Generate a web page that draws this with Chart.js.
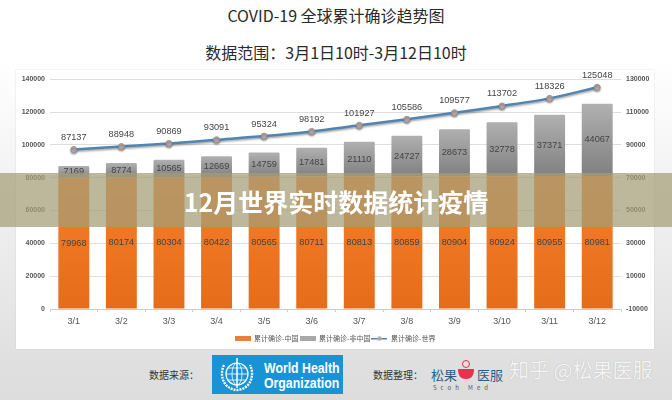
<!DOCTYPE html>
<html>
<head>
<meta charset="utf-8">
<script src="https://cdn.jsdelivr.net/npm/chart.js@4"></script>
<style>
  html, body { margin: 0; padding: 0; }
  body { width: 672px; height: 400px; position: relative; overflow: hidden;
    background: linear-gradient(#fff 0, #fff 60px, #dcdcdc 400px);
    font-family: "Noto Sans CJK SC", sans-serif; }
  .abs { position: absolute; white-space: nowrap; }
  .title { left: 0; width: 672px; text-align: center; font-size: 16px; line-height: 20px; color: #2a2a2a; }
  #card { left: 16px; top: 70px; width: 638px; height: 279px; background: #fff; box-shadow: 0 0 1px #bbb; }
  #card canvas { filter: blur(0.3px); }
  #band { left: 0; top: 173px; width: 672px; height: 54px; background: rgba(164,158,118,.73); }
  #bandText { left: 0; top: 184px; width: 672px; text-align: center; color: #fff; font-size: 25px; line-height: 34px; font-weight: 700; }
  .src { font-size: 10px; line-height: 14px; color: #333; top: 368px; }
  #who { left: 212px; top: 355px; width: 131px; height: 39px; background: #1893d6; }
  .whoText { left: 264px; color: #fff; font: bold 15px/15px "Liberation Sans", sans-serif; transform: scaleX(.82); transform-origin: left; }
  .logoText { top: 366px; font-size: 13px; line-height: 18px; color: #2b5d8c; }
  #mark { left: 509px; top: 356px; font-size: 20px; line-height: 28px; color: #f4f4f4; text-shadow: 0 0 1px #aaa; }
</style>
</head>
<body>
<div class="abs title" style="top:5px">COVID-19 全球累计确诊趋势图</div>
<div class="abs title" style="top:42px">数据范围：3月1日10时-3月12日10时</div>
<div class="abs" id="card"><canvas id="chart" width="638" height="279"></canvas></div>

<div class="abs src" style="left:149px">数据来源：</div>
<div class="abs" id="who"></div>
<svg class="abs" style="left:218px;top:355px" width="40" height="39" viewBox="0 0 40 39" fill="none" stroke="#fff">
  <circle cx="19" cy="19" r="11" stroke-width="1.2"/>
  <ellipse cx="19" cy="19" rx="5" ry="11" stroke-width=".8"/>
  <path d="M8 19h22M10 13h18M10 25h18" stroke-width=".8"/>
  <path d="M19 3v30" stroke-width="1.5"/>
  <path d="M6 10c-3 6-3 14 2 20 3 3 7 5 11 5s8-2 11-5c5-6 5-14 2-20" stroke-width="2.4" stroke-dasharray="2 1"/>
</svg>
<div class="abs whoText" style="top:360px">World Health</div>
<div class="abs whoText" style="top:375px">Organization</div>

<div class="abs src" style="left:373px">数据整理：</div>
<div class="abs logoText" style="left:431px">松果</div>
<div class="abs logoText" style="left:477px">医服</div>
<svg class="abs" style="left:457px;top:358px" width="18" height="24">
  <path d="M1 11h16c0 7-3 10-8 10s-8-3-8-10z" fill="#e8304f"/>
  <circle cx="9" cy="6" r="3.5" fill="none" stroke="#e8304f"/>
</svg>
<div class="abs" style="left:433px;top:383px;font-size:6px;line-height:9px;letter-spacing:4px;color:#556">Scoh Med</div>
<div class="abs" id="mark">知乎 @松果医服</div>

<div class="abs" id="band"></div>
<div class="abs" id="bandText">12月世界实时数据统计疫情</div>

<script>
const categories = ['3/1', '3/2', '3/3', '3/4', '3/5', '3/6', '3/7', '3/8', '3/9', '3/10', '3/11', '3/12'];
const china = [79968, 80174, 80304, 80422, 80565, 80711, 80813, 80859, 80904, 80924, 80955, 80981];
const outsideChina = [7169, 8774, 10565, 12669, 14759, 17481, 21110, 24727, 28673, 32778, 37371, 44067];
const world = [87137, 88948, 90869, 93091, 95324, 98192, 101927, 105586, 109577, 113702, 118326, 125048];
const seriesNames = ['累计确诊-中国', '累计确诊-非中国', '累计确诊-世界'];

function barGradient(top, bottom) {
  return ctx => {
    const { chart, dataIndex, datasetIndex, type } = ctx;
    if (type !== 'data' || !chart.scales.y) return top;
    const y = chart.scales.y;
    const low = datasetIndex === 0 ? 0 : china[dataIndex];
    const high = datasetIndex === 0 ? china[dataIndex] : world[dataIndex];
    const g = chart.ctx.createLinearGradient(0, y.getPixelForValue(high), 0, y.getPixelForValue(low));
    g.addColorStop(0, top);
    g.addColorStop(1, bottom);
    return g;
  };
}

function legendIcon(color, dot) {
  const c = document.createElement('canvas');
  c.width = 16; c.height = 7;
  const x = c.getContext('2d');
  x.fillStyle = color;
  if (dot) {
    x.fillRect(0, 3, 16, 1.5);
    x.fillStyle = '#b3a8a8';
    x.beginPath(); x.arc(8, 3.5, 2.2, 0, Math.PI * 2); x.fill();
  } else {
    x.fillRect(0, 1, 16, 5);
  }
  return c;
}

// 数值标签，Chart.js 没有自带
const valueLabels = {
  id: 'valueLabels',
  afterDatasetsDraw(chart) {
    const c = chart.ctx;
    c.save();
    c.font = '9.2px "Liberation Sans", sans-serif';
    c.fillStyle = '#444';
    c.textAlign = 'center';
    c.textBaseline = 'middle';
    chart.data.datasets.forEach((ds, i) => {
      chart.getDatasetMeta(i).data.forEach((el, k) => {
        if (i === 2) {
          c.fillText(ds.data[k], el.x, el.y - 12);
        } else {
          c.fillText(ds.data[k], el.x, (el.y + el.base) / 2);
        }
      });
    });
    c.restore();
  }
};

const lineShadow = {
  id: 'lineShadow',
  beforeDatasetDraw(chart, args) {
    if (args.index !== 2) return;
    chart.ctx.save();
    chart.ctx.shadowColor = 'rgba(0,0,0,.35)';
    chart.ctx.shadowBlur = 2;
    chart.ctx.shadowOffsetY = 1.5;
  },
  afterDatasetDraw(chart, args) {
    if (args.index === 2) chart.ctx.restore();
  }
};

const plainTick = v => String(v);

new Chart(document.getElementById('chart'), {
  type: 'bar',
  data: {
    labels: categories,
    datasets: [
      { label: seriesNames[0], data: china, backgroundColor: barGradient('#f77f2a', '#e56d1a'),
        stack: 's', yAxisID: 'y', categoryPercentage: 0.65, barPercentage: 1, order: 2 },
      { label: seriesNames[1], data: outsideChina, backgroundColor: barGradient('#b0b0b0', '#808080'),
        stack: 's', yAxisID: 'y', categoryPercentage: 0.65, barPercentage: 1, borderRadius: 1, order: 2 },
      { type: 'line', label: seriesNames[2], data: world, yAxisID: 'y2', order: 1,
        borderColor: '#4f85b0', borderWidth: 2.5, tension: 0.3,
        pointRadius: 3, pointBackgroundColor: '#b9a9a9', pointBorderColor: '#a09595', pointBorderWidth: 1 }
    ]
  },
  options: {
    responsive: false,
    animation: false,
    layout: { padding: { top: 9, bottom: -3 } },
    plugins: {
      tooltip: { enabled: false },
      legend: {
        position: 'bottom',
        labels: {
          font: { size: 7, family: '"Noto Sans CJK SC"' },
          color: '#555',
          usePointStyle: true,
          pointStyleWidth: 16,
          boxHeight: 7,
          padding: 1,
          generateLabels: () => [
            { text: seriesNames[0], pointStyle: legendIcon('#e8803a'), datasetIndex: 0, fontColor: '#555', lineWidth: 0 },
            { text: seriesNames[1], pointStyle: legendIcon('#a8a8a8'), datasetIndex: 1, fontColor: '#555', lineWidth: 0 },
            { text: seriesNames[2], pointStyle: legendIcon('#4f85b0', true), datasetIndex: 2, fontColor: '#555', lineWidth: 0 }
          ]
        }
      }
    },
    scales: {
      x: {
        stacked: true,
        afterFit(s) { s.height = 25; },
        grid: { display: true, drawOnChartArea: false, drawTicks: true, tickLength: 3, color: '#ccc' },
        border: { color: '#ccc' },
        ticks: { color: '#555', font: { size: 9, family: '"Liberation Sans"' }, padding: 4, maxRotation: 0 }
      },
      y: {
        stacked: true,
        min: 0, max: 140000,
        afterFit(s) { s.width = 34; },
        grid: { color: '#dedede', drawTicks: false },
        border: { display: false },
        ticks: { stepSize: 20000, callback: plainTick, color: '#555', padding: 5, font: { size: 7, weight: 'bold', family: '"Liberation Sans"' } }
      },
      y2: {
        position: 'right',
        min: -10000, max: 130000,
        afterFit(s) { s.width = 33; },
        grid: { display: false, drawTicks: false },
        border: { display: false },
        ticks: { stepSize: 20000, callback: plainTick, color: '#555', padding: 5, font: { size: 7, weight: 'bold', family: '"Liberation Sans"' } }
      }
    }
  },
  plugins: [valueLabels, lineShadow]
});
</script>
</body>
</html>
